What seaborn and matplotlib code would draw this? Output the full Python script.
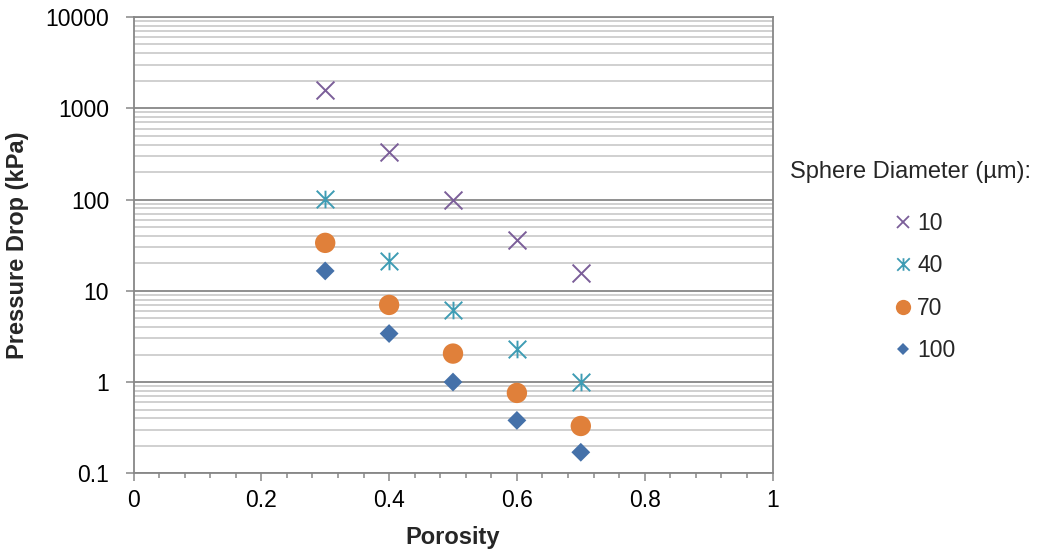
import numpy as np
import pandas as pd
import matplotlib
matplotlib.use("Agg")
import matplotlib.pyplot as plt
from matplotlib.path import Path
from matplotlib.lines import Line2D
from matplotlib.ticker import MultipleLocator, LogLocator, NullFormatter, FixedLocator
import seaborn as sns

# Measured pressure drop (kPa) against porosity for four sphere diameters
porosity = [0.3, 0.4, 0.5, 0.6, 0.7]
diameters = ["10", "40", "70", "100"]
drop_10 = [1600, 330, 100, 36, 15.5]
drop_40 = [101, 21, 6.2, 2.3, 1.0]
drop_70 = [33.5, 7.0, 2.05, 0.76, 0.33]
drop_100 = [16.5, 3.4, 1.0, 0.38, 0.17]

y_ticks = [0.1, 1, 10, 100, 1000, 10000]
y_tick_labels = ["0.1", "1", "10", "100", "1000", "10000"]
x_ticks = [0, 0.2, 0.4, 0.6, 0.8, 1]
x_tick_labels = ["0", "0.2", "0.4", "0.6", "0.8", "1"]

df = pd.DataFrame({
    "Porosity": porosity * 4,
    "Pressure": drop_10 + drop_40 + drop_70 + drop_100,
    "Diameter": [d for d in diameters for _ in porosity],
})

# X with a vertical bar through it
asterisk = Path(
    [(-1, -1), (1, 1), (-1, 1), (1, -1), (0, -1), (0, 1)],
    [Path.MOVETO, Path.LINETO, Path.MOVETO, Path.LINETO, Path.MOVETO, Path.LINETO],
)

styles = {
    "10": dict(marker="x", color="#7B5E99", s=165, linewidth=1.4),
    "40": dict(marker=asterisk, color="#3E9CB4", s=160, linewidth=1.4),
    "70": dict(marker="o", color="#E0803A", s=215, linewidth=0),
    "100": dict(marker="D", color="#4571A9", s=92, linewidth=0),
}

sns.set_style("white")
plt.rcParams["font.family"] = ["Liberation Sans", "DejaVu Sans"]

fig = plt.figure(figsize=(10.41, 5.52), dpi=100)
ax = fig.add_axes([133.5 / 1041, 1 - 473.3 / 552, (772.5 - 133.5) / 1041, (473.3 - 17) / 552])

for d in diameters:
    sub = df[df["Diameter"] == d]
    st = styles[d]
    sns.scatterplot(
        data=sub, x="Porosity", y="Pressure", ax=ax,
        marker=st["marker"], color=st["color"], s=st["s"],
        linewidth=st["linewidth"], edgecolor=st["color"] if st["linewidth"] else "none",
        legend=False, zorder=3,
    )

ax.set_yscale("log")
ax.set_xlim(0, 1)
ax.set_ylim(0.1, 10000)

grid_major = "#878787"
grid_minor = "#C4C4C4"
ax.yaxis.set_major_locator(FixedLocator(y_ticks))
ax.set_yticklabels(y_tick_labels)
ax.yaxis.set_minor_locator(LogLocator(base=10, subs=np.arange(2, 10)))
ax.yaxis.set_minor_formatter(NullFormatter())
ax.set_xticks(x_ticks)
ax.set_xticklabels(x_tick_labels)
ax.xaxis.set_minor_locator(MultipleLocator(0.04))

ax.grid(False)
ax.yaxis.grid(True, which="major", color=grid_major, linewidth=1.3, zorder=1)
ax.yaxis.grid(True, which="minor", color=grid_minor, linewidth=1.1, zorder=1)
ax.set_axisbelow(True)

for sp in ax.spines.values():
    sp.set_visible(True)
    sp.set_color(grid_major)
    sp.set_linewidth(1.3)

ax.tick_params(axis="both", which="major", labelsize=16.5, colors="black",
               direction="out", length=5.5, width=1.1, color=grid_major, pad=6)
ax.tick_params(axis="x", which="minor", direction="out", length=3.5, width=1.1,
               color=grid_major, bottom=True)
ax.tick_params(axis="y", which="minor", left=False)
ax.tick_params(axis="y", which="major", left=True, pad=12)
ax.tick_params(axis="x", which="major", bottom=True)

ax.set_xlabel("Porosity", fontsize=17, fontweight="bold", labelpad=10)
ax.set_ylabel("Pressure Drop (kPa)", fontsize=17, fontweight="bold", labelpad=12)

# Legend: title as free text, entries below it
fig.text(790 / 1041, 1 - 172 / 552, "Sphere Diameter (µm):", fontsize=17,
         ha="left", va="center")
handles = [
    Line2D([], [], linestyle="none", marker="x", color=styles["10"]["color"],
           markersize=9, markeredgewidth=1.3),
    Line2D([], [], linestyle="none", marker=asterisk, color=styles["40"]["color"],
           markersize=9, markeredgewidth=1.3),
    Line2D([], [], linestyle="none", marker="o", color=styles["70"]["color"],
           markersize=11, markeredgewidth=0),
    Line2D([], [], linestyle="none", marker="D", color=styles["100"]["color"],
           markersize=6.5, markeredgewidth=0),
]
fig.legend(handles, diameters, loc="upper left",
           bbox_to_anchor=(893 / 1041, 1 - 212 / 552), frameon=False,
           fontsize=16.5, handlelength=0.9, handletextpad=0.15,
           labelspacing=0.85, borderpad=0, borderaxespad=0)

fig.savefig("out.png", dpi=100, facecolor="white")
